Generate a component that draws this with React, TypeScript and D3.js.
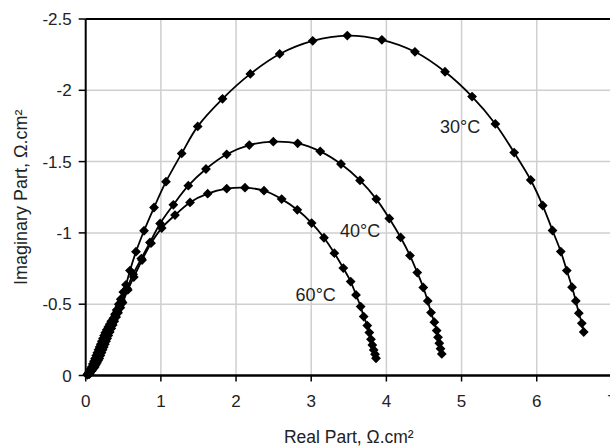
import React from "react";
import * as d3 from "d3";

// Nyquist impedance spectra at three temperatures: [real, imaginary] in Ω.cm²
const spectrum30: [number, number][] = [
  [0.02, -0.005], [0.03, -0.012], [0.04, -0.02], [0.05, -0.03], [0.065, -0.045],
  [0.08, -0.06], [0.095, -0.08], [0.11, -0.1], [0.125, -0.12], [0.14, -0.14],
  [0.155, -0.16], [0.17, -0.18], [0.185, -0.2], [0.2, -0.22], [0.215, -0.24],
  [0.23, -0.26], [0.245, -0.28], [0.26, -0.3], [0.28, -0.32], [0.3, -0.34],
  [0.32, -0.36], [0.34, -0.38], [0.368, -0.402], [0.39, -0.43], [0.412, -0.46],
  [0.44, -0.5], [0.466, -0.535], [0.5, -0.585], [0.536, -0.636], [0.589, -0.736],
  [0.669, -0.868], [0.776, -1.015], [0.909, -1.178], [1.068, -1.359],
  [1.277, -1.557], [1.49, -1.747], [1.82, -1.94], [2.19, -2.115], [2.58, -2.255],
  [3.02, -2.347], [3.48, -2.384], [3.94, -2.354], [4.38, -2.27], [4.78, -2.13],
  [5.14, -1.956], [5.45, -1.764], [5.7, -1.563], [5.92, -1.371], [6.08, -1.192],
  [6.21, -1.017], [6.32, -0.869], [6.4, -0.736], [6.47, -0.619], [6.52, -0.523],
  [6.56, -0.437], [6.6, -0.366], [6.625, -0.305],
];

const spectrum40: [number, number][] = [
  [0.04, -0.01], [0.05, -0.02], [0.065, -0.03], [0.08, -0.04], [0.095, -0.055],
  [0.11, -0.07], [0.125, -0.085], [0.14, -0.1], [0.155, -0.12], [0.17, -0.14],
  [0.185, -0.16], [0.2, -0.18], [0.215, -0.2], [0.23, -0.22], [0.245, -0.24],
  [0.26, -0.26], [0.275, -0.28], [0.29, -0.3], [0.31, -0.32], [0.33, -0.34],
  [0.35, -0.365], [0.37, -0.39], [0.395, -0.42], [0.42, -0.45], [0.45, -0.485],
  [0.48, -0.52], [0.55, -0.61], [0.63, -0.71], [0.74, -0.82], [0.855, -0.933],
  [0.99, -1.066], [1.166, -1.197], [1.365, -1.331], [1.6, -1.448], [1.876, -1.551],
  [2.176, -1.616], [2.496, -1.64], [2.82, -1.628], [3.12, -1.572], [3.396, -1.483],
  [3.649, -1.368], [3.866, -1.237], [4.039, -1.101], [4.19, -0.968], [4.314, -0.841],
  [4.411, -0.722], [4.491, -0.617], [4.55, -0.523], [4.594, -0.441], [4.638, -0.374],
  [4.669, -0.315], [4.687, -0.268], [4.704, -0.226], [4.72, -0.188], [4.737, -0.151],
];

const spectrum60: [number, number][] = [
  [0.05, -0.01], [0.06, -0.02], [0.075, -0.03], [0.09, -0.04], [0.105, -0.05],
  [0.12, -0.06], [0.135, -0.075], [0.15, -0.09], [0.165, -0.105], [0.18, -0.12],
  [0.195, -0.14], [0.21, -0.16], [0.225, -0.18], [0.24, -0.2], [0.255, -0.22],
  [0.27, -0.24], [0.285, -0.26], [0.3, -0.28], [0.32, -0.305], [0.34, -0.33],
  [0.36, -0.355], [0.38, -0.38], [0.405, -0.41], [0.43, -0.44], [0.46, -0.475],
  [0.49, -0.51], [0.56, -0.6], [0.64, -0.69], [0.75, -0.81], [0.869, -0.928],
  [1.011, -1.034], [1.188, -1.125], [1.388, -1.214], [1.623, -1.275], [1.876, -1.31],
  [2.119, -1.317], [2.372, -1.296], [2.607, -1.237], [2.815, -1.162], [3.006, -1.069],
  [3.17, -0.966], [3.308, -0.858], [3.427, -0.753], [3.525, -0.659], [3.596, -0.565],
  [3.658, -0.483], [3.698, -0.413], [3.746, -0.35], [3.773, -0.301], [3.795, -0.254],
  [3.813, -0.214], [3.831, -0.179], [3.849, -0.149], [3.862, -0.121],
];

const seriesLabels = ["30°C", "40°C", "60°C"];
// label anchor positions in data units
const labelReal = [4.98, 3.65, 3.06];
const labelImag = [-1.7, -0.97, -0.52];

const realTicks = [0, 1, 2, 3, 4, 5, 6, 7];
const imagTicks = [0, -0.5, -1, -1.5, -2, -2.5];

const W = 610;
const H = 448;
const FONT = "Liberation Sans, Arial, sans-serif";

export default function App() {
  const x = d3.scaleLinear().domain([0, 7]).range([85.7, 611.9]);
  const y = d3.scaleLinear().domain([0, -2.5]).range([375.5, 19]);
  const left = x(0);
  const right = x(7);
  const top = y(-2.5);
  const bottom = y(0);

  const line = d3
    .line<[number, number]>()
    .x((d) => x(d[0]))
    .y((d) => y(d[1]))
    .curve(d3.curveCatmullRom.alpha(0.5));

  const diamond = (cx: number, cy: number, r = 4.9) =>
    `M${cx},${cy - r}L${cx + r},${cy}L${cx},${cy + r}L${cx - r},${cy}Z`;

  const allSeries = [spectrum30, spectrum40, spectrum60];

  return (
    <svg
      width={W}
      height={H}
      style={{ position: "absolute", left: 0, top: 0, background: "#fff" }}
      fontFamily={FONT}
    >
      {/* grid */}
      {realTicks.slice(1).map((t) => (
        <line key={`gx${t}`} x1={x(t)} x2={x(t)} y1={top} y2={bottom} stroke="#cfcfcf" strokeWidth={1.5} />
      ))}
      {imagTicks.slice(1).map((t) => (
        <line key={`gy${t}`} x1={left} x2={right} y1={y(t)} y2={y(t)} stroke="#cfcfcf" strokeWidth={1.5} />
      ))}

      {/* frame and axes */}
      <line x1={left} x2={right} y1={top} y2={top} stroke="#000" strokeWidth={2} />
      <line x1={left} x2={left} y1={top} y2={bottom} stroke="#000" strokeWidth={2} />
      <line x1={left} x2={right} y1={bottom} y2={bottom} stroke="#000" strokeWidth={2.5} />

      {imagTicks.map((t) => (
        <g key={`ty${t}`}>
          <line x1={left - 7} x2={left} y1={y(t)} y2={y(t)} stroke="#000" strokeWidth={1.5} />
          <text x={left - 14} y={y(t) + 6} textAnchor="end" fontSize={17} fill="#222">
            {String(t)}
          </text>
        </g>
      ))}
      {realTicks.map((t) => (
        <g key={`tx${t}`}>
          <line x1={x(t)} x2={x(t)} y1={bottom} y2={bottom + 6} stroke="#000" strokeWidth={1.5} />
          <text x={x(t)} y={407} textAnchor="middle" fontSize={17} fill="#222">
            {String(t)}
          </text>
        </g>
      ))}

      <text x={(left + right) / 2} y={442.5} textAnchor="middle" fontSize={17.5} fill="#222">
        Real Part, Ω.cm²
      </text>
      <text
        transform={`translate(26.5,${(top + bottom) / 2}) rotate(-90)`}
        textAnchor="middle"
        fontSize={18}
        fill="#222"
      >
        Imaginary Part, Ω.cm²
      </text>

      {/* spectra */}
      {allSeries.map((s, i) => (
        <path key={`l${i}`} d={line(s) ?? ""} fill="none" stroke="#000" strokeWidth={1.8} />
      ))}
      {allSeries.map((s, i) =>
        s.map((d, j) => <path key={`m${i}-${j}`} d={diamond(x(d[0]), y(d[1]))} fill="#000" />)
      )}

      {seriesLabels.map((lab, i) => (
        <text
          key={lab}
          x={x(labelReal[i])}
          y={y(labelImag[i])}
          textAnchor="middle"
          fontSize={18}
          fill="#222"
        >
          {lab}
        </text>
      ))}
    </svg>
  );
}
